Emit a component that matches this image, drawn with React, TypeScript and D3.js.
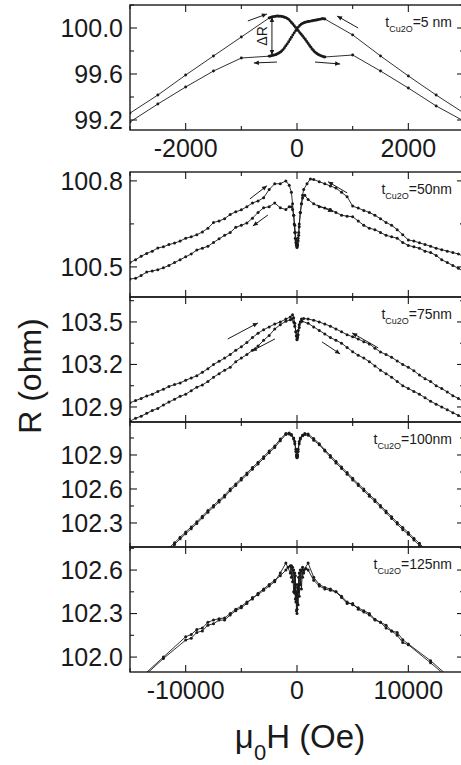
import React from 'react';
import * as d3 from 'd3';

// ---------- data (H in Oe, R in ohm) ----------
const labels5 = ['t', 'Cu2O', '=5 nm'];
const labels50 = ['t', 'Cu2O', '=50nm'];
const labels75 = ['t', 'Cu2O', '=75nm'];
const labels100 = ['t', 'Cu2O', '=100nm'];
const labels125 = ['t', 'Cu2O', '=125nm'];

const yTicks5 = [99.2, 99.6, 100.0];
const yMinor5 = [99.4, 99.8, 100.2];
const yTicks50 = [100.5, 100.8];
const yMinor50 = [100.65];
const yTicks75 = [102.9, 103.2, 103.5];
const yMinor75 = [103.05, 103.35, 103.65];
const yTicks100 = [102.3, 102.6, 102.9];
const yMinor100 = [102.45, 102.75, 103.05];
const yTicks125 = [102.0, 102.3, 102.6];
const yMinor125 = [102.15, 102.45, 102.75];
const xTicksSmall = [-2000, 0, 2000];
const xMinorSmall = [-3000, -1000, 1000, 3000];
const xTicksLarge = [-10000, 0, 10000];
const xMinorLarge = [-15000, -5000, 5000, 15000];

const p5Up: [number, number][] = [
  [-3000, 99.26], [-2500, 99.417], [-2000, 99.591], [-1500, 99.757], [-1000, 99.922],
  [-500, 100.087], [-475, 100.092], [-450, 100.096], [-425, 100.099], [-400, 100.1], [-375, 100.103],
  [-350, 100.104], [-325, 100.102], [-300, 100.103], [-275, 100.1], [-250, 100.098], [-225, 100.094],
  [-200, 100.09], [-175, 100.083], [-150, 100.075], [-125, 100.062], [-100, 100.048], [-75, 100.035],
  [-50, 100.02], [-25, 100.005], [0, 99.99], [25, 99.975], [50, 99.96], [75, 99.945], [100, 99.93],
  [125, 99.915], [150, 99.9], [175, 99.882], [200, 99.865], [225, 99.848], [250, 99.832], [275, 99.815],
  [300, 99.802], [325, 99.79], [350, 99.78], [375, 99.772], [400, 99.765], [425, 99.76], [450, 99.755],
  [475, 99.75], [500, 99.748],
  [1000, 99.765], [1500, 99.626], [2000, 99.478], [2500, 99.322], [3000, 99.19],
];
const p5Down: [number, number][] = [
  [3000, 99.26], [2500, 99.417], [2000, 99.583], [1500, 99.757], [1000, 99.94],
  [500, 100.078], [475, 100.08], [450, 100.08], [425, 100.077], [400, 100.075], [375, 100.072],
  [350, 100.07], [325, 100.068], [300, 100.066], [275, 100.063], [250, 100.06], [225, 100.058],
  [200, 100.056], [175, 100.053], [150, 100.05], [125, 100.046], [100, 100.04], [75, 100.032],
  [50, 100.022], [25, 100.008], [0, 99.99], [-25, 99.975], [-50, 99.958], [-75, 99.94], [-100, 99.92],
  [-125, 99.9], [-150, 99.88], [-175, 99.862], [-200, 99.845], [-225, 99.828], [-250, 99.812],
  [-275, 99.8], [-300, 99.79], [-325, 99.782], [-350, 99.776], [-375, 99.77], [-400, 99.766],
  [-425, 99.763], [-450, 99.76], [-475, 99.757], [-500, 99.755],
  [-1000, 99.739], [-1500, 99.626], [-2000, 99.487], [-2500, 99.339], [-3000, 99.183],
];

const p50Up: [number, number][] = [
  [-15000, 100.515], [-14500, 100.525], [-14000, 100.537], [-13500, 100.547], [-13000, 100.555],
  [-12500, 100.566], [-12000, 100.57], [-11500, 100.578], [-11000, 100.583], [-10500, 100.59],
  [-10000, 100.6], [-9500, 100.605], [-9000, 100.612], [-8500, 100.622], [-8000, 100.635],
  [-7500, 100.655], [-7000, 100.66], [-6500, 100.668], [-6000, 100.683], [-5500, 100.692],
  [-5000, 100.699], [-4500, 100.71], [-4000, 100.723], [-3500, 100.73], [-3000, 100.741],
  [-2500, 100.77], [-2000, 100.79], [-1500, 100.79], [-1000, 100.8], [-700, 100.785],
  [-500, 100.76], [-400, 100.72], [-300, 100.68], [-250, 100.65], [-200, 100.62], [-150, 100.6],
  [-100, 100.585], [-50, 100.575], [0, 100.568], [50, 100.575], [100, 100.59], [150, 100.61],
  [200, 100.64], [300, 100.69], [400, 100.72], [500, 100.74], [700, 100.75],
  [1000, 100.735], [1500, 100.72], [2000, 100.71], [2500, 100.705], [3000, 100.7], [3500, 100.69],
  [4000, 100.68], [4500, 100.677], [5000, 100.675], [5500, 100.66], [6000, 100.645], [6500, 100.635],
  [7000, 100.63], [7500, 100.62], [8000, 100.61], [8500, 100.605], [9000, 100.6], [9500, 100.585],
  [10000, 100.575], [10500, 100.57], [11000, 100.565], [11500, 100.555], [12000, 100.55],
  [12500, 100.54], [13000, 100.525], [13500, 100.515], [14000, 100.505], [14500, 100.495], [15000, 100.483],
];
const p50Down: [number, number][] = [
  [15000, 100.535], [14500, 100.545], [14000, 100.55], [13500, 100.555], [13000, 100.56],
  [12500, 100.565], [12000, 100.572], [11500, 100.578], [11000, 100.584], [10500, 100.59],
  [10000, 100.594], [9500, 100.612], [9000, 100.63], [8500, 100.645], [8000, 100.655],
  [7500, 100.668], [7000, 100.68], [6500, 100.69], [6000, 100.697], [5500, 100.705], [5000, 100.712],
  [4500, 100.745], [4000, 100.76], [3500, 100.775], [3000, 100.782], [2500, 100.79], [2000, 100.797],
  [1500, 100.805], [1200, 100.807], [900, 100.79],
  [600, 100.77], [500, 100.75], [400, 100.72], [300, 100.69], [200, 100.65], [150, 100.62],
  [100, 100.6], [50, 100.58], [0, 100.57], [-50, 100.578], [-100, 100.595], [-150, 100.62],
  [-200, 100.645], [-300, 100.68], [-400, 100.7], [-500, 100.71], [-700, 100.71],
  [-1000, 100.7], [-1500, 100.706], [-2000, 100.723], [-2500, 100.71], [-3000, 100.706],
  [-3500, 100.69], [-4000, 100.67], [-4500, 100.653], [-5000, 100.645], [-5500, 100.638],
  [-6000, 100.62], [-6500, 100.61], [-7000, 100.598], [-7500, 100.585], [-8000, 100.572],
  [-8500, 100.565], [-9000, 100.559], [-9500, 100.545], [-10000, 100.535], [-10500, 100.525],
  [-11000, 100.515], [-11500, 100.505], [-12000, 100.497], [-12500, 100.49], [-13000, 100.486],
  [-13500, 100.482], [-14000, 100.47], [-14500, 100.46], [-15000, 100.458],
];

const p75Up: [number, number][] = [
  [-15000, 102.93], [-14500, 102.945], [-14000, 102.96], [-13500, 102.978], [-13000, 102.99],
  [-12500, 103.01], [-12000, 103.025], [-11500, 103.045], [-11000, 103.058], [-10500, 103.07],
  [-10000, 103.088], [-9500, 103.105], [-9000, 103.12], [-8500, 103.145], [-8000, 103.17],
  [-7500, 103.2], [-7000, 103.222], [-6500, 103.245], [-6000, 103.27], [-5500, 103.3],
  [-5000, 103.325], [-4500, 103.355], [-4000, 103.39], [-3500, 103.42], [-3000, 103.445],
  [-2500, 103.465], [-2000, 103.485], [-1500, 103.5], [-1000, 103.52], [-600, 103.535], [-400, 103.55],
  [-300, 103.53], [-200, 103.49], [-100, 103.43], [-50, 103.4], [0, 103.38], [50, 103.4],
  [100, 103.44], [200, 103.48], [300, 103.5], [450, 103.505],
  [1000, 103.49], [1500, 103.465], [2000, 103.44], [2500, 103.415], [3000, 103.39], [3500, 103.37],
  [4000, 103.35], [4500, 103.32], [5000, 103.29], [5500, 103.265], [6000, 103.245], [6500, 103.22],
  [7000, 103.19], [7500, 103.16], [8000, 103.135], [8500, 103.11], [9000, 103.08], [9500, 103.05],
  [10000, 103.03], [10500, 103.01], [11000, 102.99], [11500, 102.965], [12000, 102.94],
  [12500, 102.92], [13000, 102.9], [13500, 102.88], [14000, 102.86], [14500, 102.84], [15000, 102.82],
];
const p75Down: [number, number][] = [
  [15000, 102.935], [14500, 102.96], [14000, 102.98], [13500, 103.006], [13000, 103.03],
  [12500, 103.05], [12000, 103.08], [11500, 103.1], [11000, 103.125], [10500, 103.155],
  [10000, 103.18], [9500, 103.2], [9000, 103.225], [8500, 103.25], [8000, 103.27], [7500, 103.288],
  [7000, 103.315], [6500, 103.345], [6000, 103.36], [5500, 103.38], [5000, 103.395], [4500, 103.41],
  [4000, 103.43], [3500, 103.45], [3000, 103.47], [2500, 103.485], [2000, 103.5], [1500, 103.512],
  [1000, 103.52], [600, 103.525], [400, 103.52],
  [300, 103.5], [200, 103.46], [100, 103.41], [50, 103.39], [0, 103.375], [-50, 103.4],
  [-100, 103.43], [-200, 103.47], [-300, 103.5], [-450, 103.52],
  [-600, 103.515], [-1000, 103.505], [-1500, 103.48], [-2000, 103.45], [-2500, 103.405],
  [-3000, 103.37], [-3500, 103.33], [-4000, 103.3], [-4500, 103.27], [-5000, 103.245],
  [-5500, 103.22], [-6000, 103.18], [-6500, 103.16], [-7000, 103.135], [-7500, 103.11],
  [-8000, 103.08], [-8500, 103.055], [-9000, 103.04], [-9500, 103.015], [-10000, 102.99],
  [-10500, 102.975], [-11000, 102.955], [-11500, 102.935], [-12000, 102.914], [-12500, 102.89],
  [-13000, 102.875], [-13500, 102.855], [-14000, 102.835], [-14500, 102.82], [-15000, 102.8],
];

const p100Up: [number, number][] = [
  [-15000, 101.73], [-14500, 101.78], [-14000, 101.83], [-13500, 101.88], [-13000, 101.93],
  [-12500, 101.98], [-12000, 102.03], [-11500, 102.08], [-11000, 102.125], [-10500, 102.175],
  [-10000, 102.22], [-9500, 102.265], [-9000, 102.31], [-8500, 102.36], [-8000, 102.41],
  [-7500, 102.455], [-7000, 102.5], [-6500, 102.545], [-6000, 102.6], [-5500, 102.645],
  [-5000, 102.695], [-4500, 102.74], [-4000, 102.79], [-3500, 102.835], [-3000, 102.885],
  [-2500, 102.935], [-2000, 102.98], [-1500, 103.04], [-1000, 103.09], [-700, 103.095],
  [-500, 103.08], [-300, 103.04], [-200, 103.0], [-100, 102.93], [-50, 102.89], [0, 102.875],
  [50, 102.9], [100, 102.95], [200, 103.02], [300, 103.05], [500, 103.07], [700, 103.08],
  [1000, 103.075], [1500, 103.03], [2000, 102.99], [2500, 102.935], [3000, 102.88], [3500, 102.83],
  [4000, 102.78], [4500, 102.73], [5000, 102.68], [5500, 102.63], [6000, 102.585], [6500, 102.535],
  [7000, 102.49], [7500, 102.44], [8000, 102.39], [8500, 102.34], [9000, 102.29], [9500, 102.24],
  [10000, 102.2], [10500, 102.15], [11000, 102.1], [11500, 102.05], [12000, 102.0], [12500, 101.95],
  [13000, 101.9], [13500, 101.85], [14000, 101.8], [14500, 101.75], [15000, 101.7],
];
const p100Down: [number, number][] = [
  [15000, 101.72], [14500, 101.77], [14000, 101.82], [13500, 101.87], [13000, 101.92],
  [12500, 101.97], [12000, 102.02], [11500, 102.07], [11000, 102.12], [10500, 102.165],
  [10000, 102.215], [9500, 102.26], [9000, 102.305], [8500, 102.355], [8000, 102.405],
  [7500, 102.455], [7000, 102.505], [6500, 102.55], [6000, 102.6], [5500, 102.645],
  [5000, 102.695], [4500, 102.745], [4000, 102.795], [3500, 102.845], [3000, 102.895],
  [2500, 102.945], [2000, 103.0], [1500, 103.045], [1000, 103.085], [700, 103.09],
  [500, 103.075], [300, 103.04], [200, 103.0], [100, 102.93], [50, 102.89], [0, 102.88],
  [-50, 102.9], [-100, 102.95], [-200, 103.02], [-300, 103.05], [-500, 103.075], [-700, 103.085],
  [-1000, 103.08], [-1500, 103.025], [-2000, 102.965], [-2500, 102.92], [-3000, 102.87],
  [-3500, 102.82], [-4000, 102.775], [-4500, 102.725], [-5000, 102.68], [-5500, 102.63],
  [-6000, 102.585], [-6500, 102.53], [-7000, 102.485], [-7500, 102.44], [-8000, 102.395],
  [-8500, 102.345], [-9000, 102.295], [-9500, 102.25], [-10000, 102.205], [-10500, 102.16],
  [-11000, 102.11], [-11500, 102.065], [-12000, 102.015], [-12500, 101.965], [-13000, 101.915],
  [-13500, 101.865], [-14000, 101.815], [-14500, 101.765], [-15000, 101.715],
];

const p125Up: [number, number][] = [
  [-15000, 101.78], [-14000, 101.86], [-12000, 102.0], [-10000, 102.14], [-9500, 102.155],
  [-9000, 102.19], [-8500, 102.2], [-8000, 102.24], [-7500, 102.255], [-7000, 102.265],
  [-6500, 102.27], [-6000, 102.3], [-5500, 102.33], [-5000, 102.35], [-4500, 102.38],
  [-4000, 102.4], [-3500, 102.44], [-3000, 102.47], [-2500, 102.5], [-2000, 102.53],
  [-1500, 102.56], [-1000, 102.6],
  [-800, 102.62], [-600, 102.63], [-500, 102.55], [-400, 102.62], [-300, 102.45], [-200, 102.58],
  [-150, 102.4], [-100, 102.5], [-50, 102.32], [0, 102.3], [50, 102.42], [100, 102.5],
  [150, 102.45], [200, 102.58], [300, 102.5], [400, 102.6], [500, 102.55], [600, 102.6],
  [1000, 102.648], [1500, 102.55], [2000, 102.5], [2500, 102.48], [3000, 102.47], [3500, 102.45],
  [4000, 102.42], [4500, 102.38], [5000, 102.36], [5500, 102.34], [6000, 102.32], [6500, 102.3],
  [7000, 102.26], [7500, 102.24], [8000, 102.2], [8500, 102.18], [9000, 102.15], [9500, 102.1],
  [10000, 102.085], [12000, 101.96], [14000, 101.83], [15000, 101.76],
];
const p125Down: [number, number][] = [
  [15000, 101.77], [14000, 101.84], [12000, 101.975], [10000, 102.09], [9500, 102.12],
  [9000, 102.17], [8500, 102.18], [8000, 102.22], [7500, 102.24], [7000, 102.255],
  [6500, 102.29], [6000, 102.31], [5500, 102.33], [5000, 102.37], [4500, 102.37],
  [4000, 102.41], [3500, 102.45], [3000, 102.46], [2500, 102.47], [2000, 102.49],
  [1500, 102.53], [1000, 102.6],
  [800, 102.61], [600, 102.58], [500, 102.62], [400, 102.47], [300, 102.6], [200, 102.42],
  [150, 102.55], [100, 102.36], [50, 102.48], [0, 102.33], [-50, 102.45], [-100, 102.38],
  [-150, 102.56], [-200, 102.44], [-300, 102.6], [-400, 102.52], [-500, 102.63], [-600, 102.58],
  [-1000, 102.648], [-1500, 102.58], [-2000, 102.52], [-2500, 102.49], [-3000, 102.46],
  [-3500, 102.43], [-4000, 102.41], [-4500, 102.37], [-5000, 102.34], [-5500, 102.32],
  [-6000, 102.29], [-6500, 102.255], [-7000, 102.255], [-7500, 102.23], [-8000, 102.22],
  [-8500, 102.18], [-9000, 102.17], [-9500, 102.13], [-10000, 102.117], [-12000, 101.99],
  [-14000, 101.85], [-15000, 101.77],
];

// arrows: [H1, R1, H2, R2] pointing from 1 to 2
const arrows5: number[][] = [
  [-883, 100.061, -541, 100.122], [-360, 99.704, -775, 99.696],
  [324, 99.704, 775, 99.687], [1099, 100.0, 721, 100.104],
];
const arrows50: number[][] = [
  [-4234, 100.737, -2700, 100.783], [-2613, 100.681, -3964, 100.643],
  [1802, 100.716, 3243, 100.692], [4505, 100.758, 2793, 100.797],
];
const arrows75: number[][] = [
  [-6216, 103.38, -3514, 103.493], [-1982, 103.38, -4054, 103.295],
  [2252, 103.359, 3874, 103.274], [7297, 103.317, 4955, 103.422],
];
const deltaR = [-450, 100.096, 99.765];

// ---------- layout ----------
const W = 461;
const HGT = 765;
const LEFT = 130;
const RIGHT = 464;
const FONT = "'Liberation Sans', Arial, Helvetica, sans-serif";
const INK = '#1a1a1a';

type Panel = {
  top: number; bottom: number; xd: [number, number]; yd: [number, number];
  yT: number[]; yM: number[]; xT: number[]; xM: number[]; xLabels: boolean;
  label: string[]; series: [number, number][][]; arrows: number[][];
};

const panels: Panel[] = [
  { top: 5, bottom: 130, xd: [-3000, 3000], yd: [99.113, 100.2], yT: yTicks5, yM: yMinor5, xT: xTicksSmall, xM: xMinorSmall, xLabels: true, label: labels5, series: [p5Up, p5Down], arrows: arrows5 },
  { top: 172, bottom: 297, xd: [-15000, 15000], yd: [100.395, 100.831], yT: yTicks50, yM: yMinor50, xT: xTicksLarge, xM: xMinorLarge, xLabels: false, label: labels50, series: [p50Up, p50Down], arrows: arrows50 },
  { top: 297, bottom: 422, xd: [-15000, 15000], yd: [102.794, 103.676], yT: yTicks75, yM: yMinor75, xT: xTicksLarge, xM: xMinorLarge, xLabels: false, label: labels75, series: [p75Up, p75Down], arrows: arrows75 },
  { top: 422, bottom: 547, xd: [-15000, 15000], yd: [102.088, 103.191], yT: yTicks100, yM: yMinor100, xT: xTicksLarge, xM: xMinorLarge, xLabels: false, label: labels100, series: [p100Up, p100Down], arrows: [] },
  { top: 547, bottom: 672, xd: [-15000, 15000], yd: [101.897, 102.759], yT: yTicks125, yM: yMinor125, xT: xTicksLarge, xM: xMinorLarge, xLabels: true, label: labels125, series: [p125Up, p125Down], arrows: [] },
];

function PanelView({ p, i }: { p: Panel; i: number }) {
  const xs = d3.scaleLinear().domain(p.xd).range([LEFT, RIGHT]);
  const ys = d3.scaleLinear().domain(p.yd).range([p.bottom, p.top]);
  const line = d3.line<[number, number]>().x((d) => xs(d[0])).y((d) => ys(d[1]));
  const clipId = `clip${i}`;
  const MAJ = 7;
  const MIN = 4;
  return (
    <g>
      <defs>
        <clipPath id={clipId}>
          <rect x={LEFT} y={p.top} width={RIGHT - LEFT} height={p.bottom - p.top} />
        </clipPath>
      </defs>
      <g clipPath={`url(#${clipId})`}>
        {p.series.map((s, k) => (
          <g key={k}>
            <path d={line(s) || ''} fill="none" stroke={INK} strokeWidth={0.9} />
            {s.map((d, j) => (
              <circle key={j} cx={xs(d[0])} cy={ys(d[1])} r={i === 0 ? 1.45 : 1.5} fill={INK} />
            ))}
          </g>
        ))}
        {p.arrows.map((a, k) => (
          <line key={k} x1={xs(a[0])} y1={ys(a[1])} x2={xs(a[2])} y2={ys(a[3])}
            stroke={INK} strokeWidth={1} markerEnd="url(#ah)" />
        ))}
        {i === 0 && (
          <g>
            <line x1={xs(deltaR[0])} x2={xs(deltaR[0])} y1={ys(deltaR[1])} y2={ys(deltaR[2])}
              stroke={INK} strokeWidth={1} markerStart="url(#ah)" markerEnd="url(#ah)" />
            <text transform={`translate(${xs(deltaR[0]) - 5},${(ys(deltaR[1]) + ys(deltaR[2])) / 2}) rotate(-90)`}
              textAnchor="middle" fontSize={14} fontFamily={FONT} fill={INK}>ΔR</text>
          </g>
        )}
      </g>
      {/* frame */}
      <rect x={LEFT} y={p.top} width={RIGHT - LEFT} height={p.bottom - p.top} fill="none" stroke={INK} strokeWidth={1.4} />
      {/* y ticks */}
      {p.yT.map((t) => (
        <g key={'y' + t}>
          <line x1={LEFT} x2={LEFT + MAJ} y1={ys(t)} y2={ys(t)} stroke={INK} strokeWidth={1.1} />
          <line x1={RIGHT} x2={RIGHT - MAJ} y1={ys(t)} y2={ys(t)} stroke={INK} strokeWidth={1.1} />
          <text x={LEFT - 7} y={ys(t)} dy="0.35em" textAnchor="end" fontSize={25} fontFamily={FONT} fill={INK}>
            {d3.format('.1f')(t)}
          </text>
        </g>
      ))}
      {p.yM.map((t) => (
        <g key={'ym' + t}>
          <line x1={LEFT} x2={LEFT + MIN} y1={ys(t)} y2={ys(t)} stroke={INK} strokeWidth={1.1} />
          <line x1={RIGHT} x2={RIGHT - MIN} y1={ys(t)} y2={ys(t)} stroke={INK} strokeWidth={1.1} />
        </g>
      ))}
      {/* x ticks */}
      {p.xT.map((t) => (
        <g key={'x' + t}>
          <line x1={xs(t)} x2={xs(t)} y1={p.bottom} y2={p.bottom - MAJ} stroke={INK} strokeWidth={1.1} />
          <line x1={xs(t)} x2={xs(t)} y1={p.top} y2={p.top + MAJ} stroke={INK} strokeWidth={1.1} />
          {p.xLabels && (
            <text x={xs(t)} y={p.bottom + 26.5} textAnchor="middle" fontSize={25} fontFamily={FONT} fill={INK}>
              {String(t)}
            </text>
          )}
        </g>
      ))}
      {p.xM.map((t) => (
        <g key={'xm' + t}>
          <line x1={xs(t)} x2={xs(t)} y1={p.bottom} y2={p.bottom - MIN} stroke={INK} strokeWidth={1.1} />
          <line x1={xs(t)} x2={xs(t)} y1={p.top} y2={p.top + MIN} stroke={INK} strokeWidth={1.1} />
        </g>
      ))}
      {/* thickness label */}
      <text x={452} y={p.top + 22} textAnchor="end" fontSize={14} fontFamily={FONT} fill={INK}>
        {p.label[0]}
        <tspan fontSize={9} dy={5}>{p.label[1]}</tspan>
        <tspan dy={-5}>{p.label[2]}</tspan>
      </text>
    </g>
  );
}

export default function App() {
  return (
    <svg width={W} height={HGT} viewBox={`0 0 ${W} ${HGT}`}
      style={{ position: 'absolute', left: 0, top: 0, background: '#fff' }}>
      <defs>
        <marker id="ah" viewBox="0 0 10 10" refX={10} refY={5} markerWidth={7} markerHeight={5}
          markerUnits="userSpaceOnUse" orient="auto-start-reverse">
          <path d="M0,0.5 L10,5 L0,9.5 z" fill={INK} />
        </marker>
      </defs>
      <rect x={0} y={0} width={W} height={HGT} fill="#fff" />
      {panels.map((p, i) => <PanelView key={i} p={p} i={i} />)}
      <text transform="translate(41,376) rotate(-90)" textAnchor="middle" fontSize={32} fontFamily={FONT} fill={INK}>
        R (ohm)
      </text>
      <text x={300} y={748} textAnchor="middle" fontSize={33} fontFamily={FONT} fill={INK}>
        μ<tspan fontSize={22} dy={12}>0</tspan><tspan dy={-12}>H (Oe)</tspan>
      </text>
    </svg>
  );
}
